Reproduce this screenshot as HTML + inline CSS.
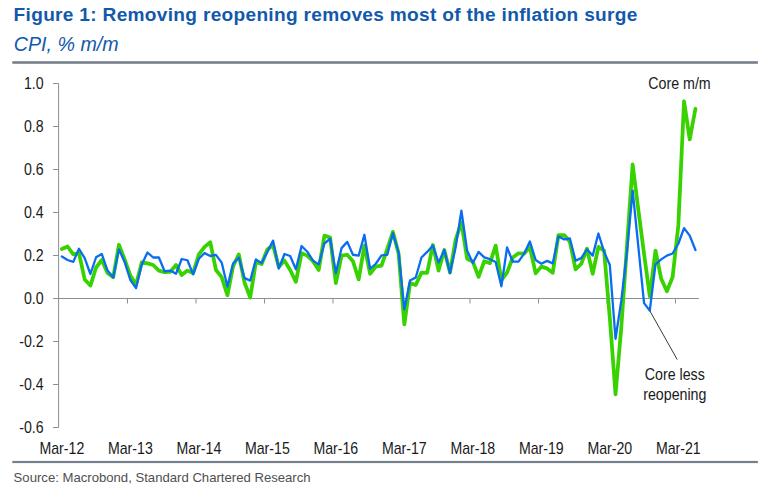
<!DOCTYPE html>
<html><head><meta charset="utf-8"><title>Figure 1</title>
<style>
html,body{margin:0;padding:0;background:#fff;}
body{width:768px;height:490px;overflow:hidden;font-family:"Liberation Sans",sans-serif;}
svg{display:block;}
text{font-family:"Liberation Sans",sans-serif;}
</style></head><body>
<svg width="768" height="490" viewBox="0 0 768 490">
<rect width="768" height="490" fill="#ffffff"/>
<text x="13.6" y="21" font-size="19.1" font-weight="bold" fill="#1259AC" textLength="623.8" lengthAdjust="spacing">Figure 1: Removing reopening removes most of the inflation surge</text>
<text x="13.8" y="50.8" font-size="20.2" font-style="italic" fill="#1259AC" textLength="104.8" lengthAdjust="spacingAndGlyphs">CPI, % m/m</text>
<rect x="12.3" y="61.2" width="745.6" height="2.6" fill="#75808c"/>
<rect x="12.3" y="460.9" width="745.6" height="2.2" fill="#75808c"/>
<text x="13.6" y="481.8" font-size="13.4" fill="#4f4f4f" textLength="297" lengthAdjust="spacingAndGlyphs">Source: Macrobond, Standard Chartered Research</text>

<g stroke="#8a8f96" stroke-width="1" fill="none">
<line x1="58.6" y1="83.50" x2="58.6" y2="427.50"/>
<line x1="53.1" y1="83.50" x2="58.6" y2="83.50"/>
<line x1="53.1" y1="126.50" x2="58.6" y2="126.50"/>
<line x1="53.1" y1="169.50" x2="58.6" y2="169.50"/>
<line x1="53.1" y1="212.50" x2="58.6" y2="212.50"/>
<line x1="53.1" y1="255.50" x2="58.6" y2="255.50"/>
<line x1="53.1" y1="298.50" x2="58.6" y2="298.50"/>
<line x1="53.1" y1="341.50" x2="58.6" y2="341.50"/>
<line x1="53.1" y1="384.50" x2="58.6" y2="384.50"/>
<line x1="53.1" y1="427.50" x2="58.6" y2="427.50"/>
<line x1="58.1" y1="298.50" x2="698.9" y2="298.50"/>
<line x1="127.50" y1="298.50" x2="127.50" y2="303.50"/>
<line x1="195.99" y1="298.50" x2="195.99" y2="303.50"/>
<line x1="264.49" y1="298.50" x2="264.49" y2="303.50"/>
<line x1="332.98" y1="298.50" x2="332.98" y2="303.50"/>
<line x1="401.48" y1="298.50" x2="401.48" y2="303.50"/>
<line x1="469.98" y1="298.50" x2="469.98" y2="303.50"/>
<line x1="538.47" y1="298.50" x2="538.47" y2="303.50"/>
<line x1="606.97" y1="298.50" x2="606.97" y2="303.50"/>
<line x1="675.46" y1="298.50" x2="675.46" y2="303.50"/>
</g>
<g font-size="16" fill="#1a1a1a" text-anchor="end">
<text transform="translate(43.6,89.00) scale(0.885,1)">1.0</text>
<text transform="translate(43.6,132.00) scale(0.885,1)">0.8</text>
<text transform="translate(43.6,175.00) scale(0.885,1)">0.6</text>
<text transform="translate(43.6,218.00) scale(0.885,1)">0.4</text>
<text transform="translate(43.6,261.00) scale(0.885,1)">0.2</text>
<text transform="translate(43.6,304.00) scale(0.885,1)">0.0</text>
<text transform="translate(43.6,347.00) scale(0.885,1)">-0.2</text>
<text transform="translate(43.6,390.00) scale(0.885,1)">-0.4</text>
<text transform="translate(43.6,433.00) scale(0.885,1)">-0.6</text>
</g>
<g font-size="16" fill="#1a1a1a" text-anchor="middle">
<text transform="translate(61.85,453.6) scale(0.885,1)">Mar-12</text>
<text transform="translate(130.35,453.6) scale(0.885,1)">Mar-13</text>
<text transform="translate(198.84,453.6) scale(0.885,1)">Mar-14</text>
<text transform="translate(267.34,453.6) scale(0.885,1)">Mar-15</text>
<text transform="translate(335.83,453.6) scale(0.885,1)">Mar-16</text>
<text transform="translate(404.33,453.6) scale(0.885,1)">Mar-17</text>
<text transform="translate(472.83,453.6) scale(0.885,1)">Mar-18</text>
<text transform="translate(541.32,453.6) scale(0.885,1)">Mar-19</text>
<text transform="translate(609.82,453.6) scale(0.885,1)">Mar-20</text>
<text transform="translate(678.31,453.6) scale(0.885,1)">Mar-21</text>
</g>
<polyline points="61.85,249.00 67.56,246.50 73.27,254.40 78.98,253.10 84.69,279.40 90.39,285.60 96.10,267.50 101.81,260.00 107.52,273.10 113.23,277.25 118.93,244.75 124.64,259.40 130.35,275.60 136.06,284.40 141.77,262.40 147.47,263.40 153.18,265.00 158.89,270.60 164.60,272.25 170.31,271.90 176.01,265.00 181.72,275.00 187.43,270.60 193.14,273.10 198.85,254.40 204.55,246.90 210.26,242.25 215.97,270.00 221.68,277.20 227.39,295.30 233.09,266.25 238.80,254.40 244.51,282.50 250.22,297.50 255.93,261.90 261.63,264.00 267.34,249.40 273.05,245.00 278.76,266.90 284.47,260.60 290.17,270.00 295.88,281.90 301.59,253.10 307.30,255.60 313.01,261.25 318.71,270.00 324.42,235.60 330.13,237.50 335.84,283.10 341.55,255.60 347.25,254.75 352.96,261.25 358.67,279.40 364.38,245.60 370.09,273.75 375.79,266.60 381.50,265.60 387.21,249.20 392.92,231.90 398.63,253.75 404.33,324.40 410.04,283.10 415.75,285.00 421.46,272.60 427.17,272.80 432.87,245.00 438.58,270.60 444.29,250.00 450.00,272.50 455.71,239.40 461.41,222.50 467.12,258.75 472.83,261.60 478.54,276.90 484.25,261.25 489.95,263.10 495.66,245.60 501.37,280.00 507.08,272.50 512.79,257.50 518.49,253.30 524.20,253.50 529.91,247.20 535.62,273.40 541.33,266.60 547.03,268.40 552.74,272.80 558.45,235.00 564.16,235.00 569.87,241.90 575.57,269.40 581.28,263.75 586.99,248.75 592.70,273.75 598.41,246.90 604.11,250.80 609.82,318.00 615.53,394.40 621.24,328.00 626.95,246.00 632.65,164.40 638.36,210.00 644.07,254.00 649.78,296.25 655.49,250.60 661.19,278.75 666.90,291.25 672.61,277.00 678.32,225.70 684.03,101.25 689.73,139.40 695.44,108.75" fill="none" stroke="#38D200" stroke-width="3.75" stroke-linejoin="round" stroke-linecap="round"/>
<polyline points="61.85,256.50 67.56,260.00 73.27,261.90 78.98,248.75 84.69,258.10 90.39,274.00 96.10,257.25 101.81,254.00 107.52,270.60 113.23,277.50 118.93,249.40 124.64,261.90 130.35,280.00 136.06,288.10 141.77,264.40 147.47,252.50 153.18,257.50 158.89,257.50 164.60,271.25 170.31,270.60 176.01,273.75 181.72,259.00 187.43,260.25 193.14,274.40 198.85,258.75 204.55,253.10 210.26,256.00 215.97,254.90 221.68,262.60 227.39,286.60 233.09,263.50 238.80,257.50 244.51,278.10 250.22,280.60 255.93,259.40 261.63,263.10 267.34,251.90 273.05,240.60 278.76,268.50 284.47,254.00 290.17,256.00 295.88,269.20 301.59,246.00 307.30,251.70 313.01,260.60 318.71,264.40 324.42,243.50 330.13,238.75 335.84,273.10 341.55,248.10 347.25,241.90 352.96,254.75 358.67,255.60 364.38,234.75 370.09,268.75 375.79,263.75 381.50,255.40 387.21,254.90 392.92,233.10 398.63,252.50 404.33,309.40 410.04,280.50 415.75,277.50 421.46,257.50 427.17,251.90 432.87,245.60 438.58,262.50 444.29,250.00 450.00,273.10 455.71,247.00 461.41,210.60 467.12,250.60 472.83,263.10 478.54,251.90 484.25,257.40 489.95,259.20 495.66,262.00 501.37,286.25 507.08,247.50 512.79,261.70 518.49,261.70 524.20,253.50 529.91,241.50 535.62,260.00 541.33,263.70 547.03,260.90 552.74,263.40 558.45,236.50 564.16,239.40 569.87,238.50 575.57,260.60 581.28,258.10 586.99,249.40 592.70,255.60 598.41,233.50 604.11,251.90 609.82,265.00 615.53,338.75 621.24,301.00 626.95,252.00 632.65,190.60 638.36,246.90 644.07,303.10 649.78,310.60 655.49,264.40 661.19,259.40 666.90,255.60 672.61,253.50 678.32,243.75 684.03,228.10 689.73,235.60 695.44,250.00" fill="none" stroke="#0A6CF0" stroke-width="2.3" stroke-linejoin="round" stroke-linecap="round"/>
<line x1="649.7" y1="310.6" x2="677.2" y2="359.5" stroke="#3a3a3a" stroke-width="1"/>
<g font-size="16" fill="#1a1a1a" text-anchor="middle">
<text transform="translate(679.5,88.8) scale(0.89,1)">Core m/m</text>
<text transform="translate(674.8,379.5) scale(0.89,1)">Core less</text>
<text transform="translate(674.8,399.5) scale(0.89,1)">reopening</text>
</g>
</svg></body></html>
